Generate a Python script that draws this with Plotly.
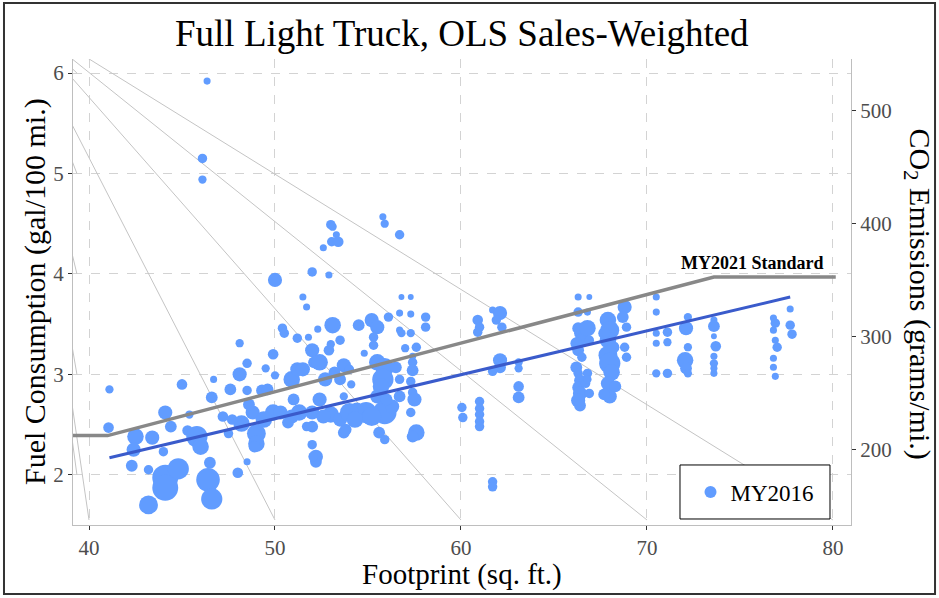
import plotly.graph_objects as go

# ---------------- data ----------------
# MY2016 vehicles: footprint (sq ft), fuel consumption (gal/100 mi), marker diameter (sales weight)
fp = [41.1, 41.05, 42.5, 42.4, 42.3, 43.2, 43.4, 43.2, 44.1, 44.4, 44.0, 44.1, 44.1, 44.8, 45.0, 45.3, 45.4,
      45.8, 46.0, 46.5, 46.4, 46.6, 46.6, 46.7, 47.2, 47.5, 47.6, 48.1, 48.0, 48.5, 48.5, 48.2, 48.8, 49.0,
      49.0, 48.9, 49.5, 49.9, 50.0, 49.9, 48.5, 49.3, 50.9, 50.9, 50.0, 48.1, 50.4, 50.5, 51.2, 51.2, 51.5,
      51.7, 51.8, 52.0, 52.1, 51.5, 52.2, 52.2, 52.0, 52.0, 51.3, 51.0, 49.4, 50.3, 50.7, 47.7, 48.6, 49.6,
      46.35, 46.1, 46.1,
      55.8, 55.9, 56.7, 53.0, 53.1, 53.3, 53.05, 53.4, 52.6, 52.0, 52.9, 56.8, 57.3, 56.7, 57.3, 58.1, 58.1,
      53.1, 54.5, 55.2, 55.5, 56.1, 55.3, 56.7, 56.8, 57.3, 53.5, 55.3, 57.6, 57.0, 57.4, 52.9, 52.4, 53.7,
      54.8, 55.5, 55.9, 56.5, 57.4, 57.4, 53.5, 55.8, 56.7, 57.3, 54.1, 57.4, 57.5, 57.3, 56.7, 55.7, 55.5,
      54.9, 54.4, 55.9, 53.7, 52.4, 52.0, 51.7, 53.7, 55.6, 55.9, 57.6, 57.4, 53.8, 52.05,
      53.0, 53.5, 54.0, 54.3, 52.6, 55.2, 56.3, 56.0, 52.7, 53.2, 54.0, 53.0, 52.3,
      60.05, 60.1, 61.0, 61.0, 61.0, 61.0, 61.0, 60.9, 61.0, 60.9, 61.7, 62.1, 61.9, 62.2, 62.1, 62.1, 61.7,
      63.1, 63.1, 63.1, 63.1, 61.7, 61.7,
      66.3, 66.9, 66.3, 66.8,
      66.3, 66.4, 66.5, 66.2, 66.3, 66.5, 66.2, 66.3, 66.4, 66.3, 66.4, 66.3, 66.4,
      66.8, 66.9, 66.8, 66.7, 66.9, 66.8,
      67.9, 68.0, 67.9, 68.2, 67.9, 68.0, 68.1, 67.9, 68.0, 68.3, 68.8, 68.7, 68.9, 68.8, 68.9, 67.7, 67.7,
      70.5, 70.5, 70.5, 70.5, 70.5, 71.1, 71.1, 71.1,
      72.2, 72.1, 72.2, 72.05, 72.1, 72.2,
      73.6, 73.6, 73.6, 73.7, 73.6, 73.6, 73.6, 73.6,
      76.8, 76.9, 76.8, 76.9, 77.0, 76.8, 76.8, 76.9,
      77.7, 77.7, 77.8]
fc = [2.85, 2.47, 2.38, 2.25, 2.09, 2.05, 2.37, 1.70, 2.62, 2.48, 2.23, 1.97, 1.87, 2.06, 2.90, 2.44, 2.60,
      2.38, 2.28, 2.12, 1.95, 1.76, 2.77, 2.95, 2.58, 2.41, 2.85, 3.00, 2.02, 2.13, 3.11, 2.51, 2.62, 2.41,
      2.31, 2.28, 3.06, 3.20, 2.99, 2.62, 2.84, 2.84, 2.95, 2.58, 3.94, 3.31, 3.46, 3.41, 3.36, 3.05, 3.77,
      3.67, 3.37, 3.24, 3.12, 3.05, 2.18, 2.13, 2.30, 2.48, 2.62, 2.75, 2.55, 2.62, 2.52, 2.55, 2.70, 2.85,
      5.92, 5.15, 4.94,
      4.57, 4.50, 4.39, 4.49, 4.47, 4.39, 4.32, 4.32, 4.26, 4.02, 3.99, 3.77, 3.77, 3.61, 3.60, 3.57, 3.47,
      3.49, 3.49, 3.54, 3.47, 3.57, 3.37, 3.44, 3.41, 3.41, 3.34, 3.29, 3.27, 3.26, 3.18, 3.24, 3.12, 3.09,
      3.21, 3.12, 3.07, 3.07, 3.12, 3.04, 2.95, 2.95, 2.95, 2.93, 2.90, 2.82, 2.75, 2.62, 2.78, 2.88, 2.78,
      2.62, 2.65, 2.62, 2.78, 2.75, 2.62, 2.48, 2.42, 2.42, 2.35, 2.42, 2.38, 2.45, 2.18,
      2.60, 2.55, 2.62, 2.55, 2.58, 2.58, 2.68, 2.75, 2.95, 3.02, 3.05, 3.30, 3.45,
      2.67, 2.57, 2.73, 2.66, 2.60, 2.53, 2.48, 3.54, 3.47, 3.42, 3.64, 3.61, 3.54, 3.47, 3.14, 3.07, 3.03,
      3.12, 3.06, 2.88, 2.77, 1.93, 1.88,
      3.77, 3.77, 3.62, 3.62,
      3.46, 3.41, 3.34, 3.31, 3.24, 3.17, 3.07, 3.01, 2.94, 2.87, 2.81, 2.74, 2.69,
      3.46, 3.34, 3.01, 2.91, 2.81, 2.95,
      3.54, 3.44, 3.34, 3.27, 3.19, 3.11, 3.02, 2.91, 2.78, 2.88, 3.67, 3.57, 3.47, 3.27, 3.17, 3.41, 2.80,
      3.77, 3.62, 3.41, 3.31, 3.01, 3.42, 3.32, 3.01,
      3.57, 3.46, 3.27, 3.14, 3.06, 3.01,
      3.54, 3.48, 3.38, 3.28, 3.18, 3.11, 3.06, 3.01,
      3.56, 3.51, 3.44, 3.34, 3.27, 3.16, 3.07, 2.98,
      3.65, 3.49, 3.40]
sales = [7, 9, 14, 12, 10, 8, 12, 16, 12, 10, 8, 22, 22, 18, 9, 9, 7,
         18, 14, 10, 20, 18, 10, 6, 9, 8, 10, 12, 9, 6, 8, 14, 12, 16,
         14, 10, 7, 9, 7, 14, 8, 10, 14, 12, 12, 7, 8, 8, 8, 12, 6,
         6, 6, 12, 10, 12, 12, 10, 8, 10, 14, 10, 14, 12, 10, 9, 10, 10,
         6, 8, 7,
         6, 7, 8, 8, 7, 6, 8, 9, 6, 8, 6, 5, 5, 6, 6, 8, 8,
         14, 10, 12, 12, 8, 8, 6, 7, 7, 8, 8, 8, 7, 6, 9, 14, 12,
         6, 14, 16, 10, 8, 10, 10, 18, 8, 8, 7, 8, 12, 8, 10, 14, 12,
         18, 12, 20, 7, 12, 12, 8, 10, 10, 8, 14, 10, 10, 8,
         14, 12, 16, 14, 12, 16, 12, 10, 12, 10, 8, 7, 6,
         8, 8, 8, 8, 8, 8, 8, 9, 8, 8, 6, 12, 8, 8, 12, 10, 8,
         7, 7, 9, 10, 8, 8,
         6, 5, 8, 6,
         10, 10, 12, 10, 10, 8, 10, 8, 10, 10, 12, 12, 10,
         14, 8, 8, 8, 8, 7,
         14, 16, 14, 10, 16, 18, 14, 12, 12, 10, 12, 10, 8, 8, 8, 10, 10,
         6, 6, 6, 6, 7, 8, 7, 8,
         7, 12, 7, 14, 10, 7,
         6, 10, 5, 9, 6, 7, 6, 6,
         6, 8, 6, 6, 8, 6, 6, 6,
         6, 8, 8]

# OLS sales-weighted fit
fit_x = [41.1, 77.7]
fit_y = [2.17, 3.77]

# MY2021 standard curve
std_x = [39.0, 41.0, 73.6, 80.15]
std_y = [2.39, 2.39, 3.97, 3.97]

# grey reference rays: common origin and end points
ray_origin = (36.0, 6.6)
ray_end_x = [40, 50, 60, 70, 80, 39.35, 39.35, 39.35, 39.35, 39.35]
ray_end_y = [1.55, 1.55, 1.55, 1.55, 1.55, 6.0, 5.0, 4.0, 3.0, 2.0]

x_ticks = [40, 50, 60, 70, 80]
y_ticks = [2, 3, 4, 5, 6]
co2_ticks = [200, 300, 400, 500]
co2_per_gal = 88.87  # grams CO2 per mile for 1 gal/100 mi

x_range = [39.14, 80.97]
y_range = [1.5, 6.14]

# ---------------- figure ----------------
SERIF = "Liberation Serif"
fig = go.Figure()

rx, ry = [], []
for ex, ey in zip(ray_end_x, ray_end_y):
    rx += [ray_origin[0], ex, None]
    ry += [ray_origin[1], ey, None]
fig.add_trace(go.Scatter(x=rx, y=ry, mode="lines", line=dict(color="#C4C4C4", width=1),
                         showlegend=False, hoverinfo="skip"))

fig.add_trace(go.Scatter(x=fp, y=fc, mode="markers", name="MY2016",
                         marker=dict(color="#619CFF", size=[s * 1.18 for s in sales],
                                     line=dict(width=0), opacity=1)))

fig.add_trace(go.Scatter(x=std_x, y=std_y, mode="lines", line=dict(color="#888888", width=3.5),
                         showlegend=False))
fig.add_trace(go.Scatter(x=fit_x, y=fit_y, mode="lines", line=dict(color="#3A5BCB", width=3),
                         showlegend=False))

fig.add_trace(go.Scatter(x=[None], y=[None], yaxis="y2", showlegend=False, hoverinfo="skip"))

axis_common = dict(showline=True, linecolor="#BEBEBE", linewidth=1, ticks="outside", ticklen=4,
                   tickcolor="#333333", tickfont=dict(family=SERIF, size=21, color="#4D4D4D"),
                   zeroline=False)

fig.update_layout(
    width=939, height=598,
    margin=dict(l=73, r=88, t=59, b=73),
    paper_bgcolor="white", plot_bgcolor="white",
    xaxis=dict(range=x_range, tickvals=x_ticks, showgrid=True, gridcolor="#D3D3D3",
               griddash="dash", gridwidth=1, **axis_common),
    yaxis=dict(range=y_range, tickvals=y_ticks, showgrid=True, gridcolor="#D3D3D3",
               griddash="dash", gridwidth=1, **axis_common),
    yaxis2=dict(range=[y_range[0] * co2_per_gal, y_range[1] * co2_per_gal], tickvals=co2_ticks,
                overlaying="y", side="right", showgrid=False, **axis_common),
    legend=dict(x=0.8766, xanchor="center", y=0.0708, yanchor="middle", bgcolor="rgba(0,0,0,0)",
                borderwidth=0, font=dict(family=SERIF, size=23, color="black"),
                itemsizing="constant"),
    font=dict(family=SERIF),
)

# legend frame
fig.add_shape(type="rect", xref="paper", yref="paper", x0=0.7802, x1=0.973, y0=0.0129, y1=0.1288,
              fillcolor="white", line=dict(color="black", width=1), layer="above")

fig.add_annotation(text="Full Light Truck, OLS Sales-Weighted", xref="paper", yref="paper",
                   x=0.5, y=1.054, xanchor="center", yanchor="middle", showarrow=False,
                   font=dict(family=SERIF, size=37, color="black"))
fig.add_annotation(text="Footprint (sq. ft.)", xref="paper", yref="paper",
                   x=0.5, y=-0.106, xanchor="center", yanchor="middle", showarrow=False,
                   font=dict(family=SERIF, size=29, color="black"))
fig.add_annotation(text="Fuel Consumption (gal/100 mi.)", xref="paper", yref="paper",
                   x=-0.0488, y=0.5, xanchor="center", yanchor="middle", textangle=-90,
                   showarrow=False, font=dict(family=SERIF, size=30, color="black"))
fig.add_annotation(text="CO<sub>2</sub> Emissions (grams/mi.)", xref="paper", yref="paper",
                   x=1.086, y=0.495, xanchor="center", yanchor="middle", textangle=90,
                   showarrow=False, font=dict(family=SERIF, size=30, color="black"))
fig.add_annotation(text="<b>MY2021 Standard</b>", x=79.6, y=3.99, xanchor="right", yanchor="bottom",
                   showarrow=False, font=dict(family=SERIF, size=18, color="black"))

fig.add_shape(type="rect", xref="paper", yref="paper", x0=-0.0887, x1=1.108, y0=-0.148, y1=1.12,
              line=dict(color="#333333", width=2))

fig.write_html("out.html", config={"displayModeBar": False},
               post_script="document.body.style.margin='0';")
